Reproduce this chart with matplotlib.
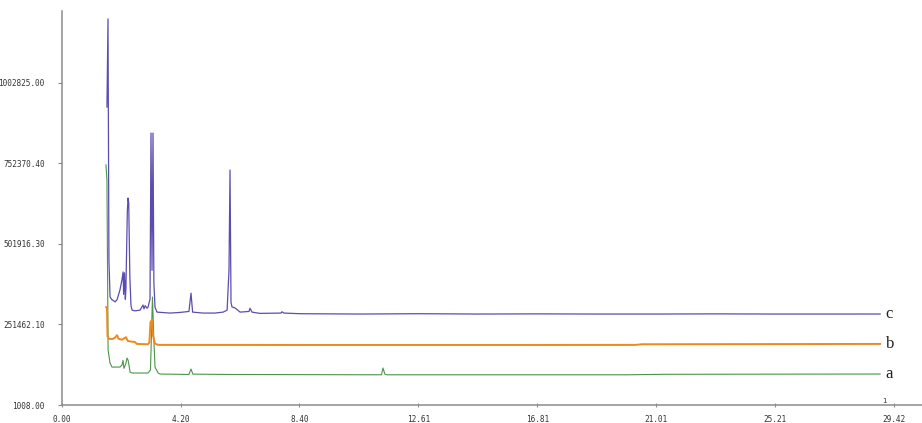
import numpy as np
import matplotlib
matplotlib.use("Agg")
import matplotlib.pyplot as plt

# retention time (min) / detector response for the three runs
time_c = [1.59, 1.627, 1.66, 1.70, 1.77, 1.80, 1.88, 1.95, 2.05, 2.12, 2.16, 2.18, 2.21, 2.24,
          2.26, 2.31, 2.335, 2.36, 2.40, 2.44, 2.48, 2.58, 2.76, 2.865, 2.90, 2.94, 3.007, 3.04,
          3.113, 3.148, 3.184, 3.219, 3.25, 3.29, 3.36, 3.82, 4.17, 4.49, 4.563, 4.62, 4.99,
          5.41, 5.70, 5.84, 5.907, 5.943, 5.978, 6.013, 6.12, 6.30, 6.615, 6.65, 6.72, 7.00,
          7.747, 7.782, 7.853, 8.42, 10.5, 12.6, 14.7, 16.8, 18.9, 21.0, 23.1, 25.2, 27.3, 28.94]
resp_c = [928000, 1202000, 450000, 337000, 328000, 327000, 322000, 329000, 359000, 390000,
          415000, 345000, 412000, 330000, 360000, 600000, 645000, 630000, 400000, 310000,
          296000, 294000, 296000, 312000, 300000, 310000, 302000, 305000, 330000, 847000,
          420000, 847000, 380000, 305000, 290000, 287000, 289000, 292000, 349000, 290000,
          287000, 287000, 290000, 296000, 420000, 732000, 320000, 306000, 303000, 290000,
          292000, 302000, 290000, 286000, 287000, 291000, 287000, 285000, 284000, 285000,
          284000, 284500, 284000, 284000, 284500, 284000, 284000, 284100]

time_b = [1.56, 1.59, 1.61, 1.66, 1.77, 1.87, 1.946, 2.00, 2.12, 2.26, 2.33, 2.48, 2.58,
          2.65, 3.04, 3.09, 3.13, 3.18, 3.21, 3.29, 3.40, 8.4, 12.6, 16.8, 20.3, 20.5, 25.2,
          28.94]
resp_b = [305000, 306000, 215000, 207000, 206000, 210000, 218000, 207000, 204000, 212000,
          200000, 198000, 197000, 191000, 190000, 195000, 259000, 265000, 220000, 192000,
          188000, 187700, 187700, 187700, 188000, 190000, 190500, 191000]

time_a = [1.556, 1.59, 1.63, 1.70, 1.77, 2.05, 2.12, 2.158, 2.19, 2.26, 2.30, 2.34, 2.41,
          2.48, 3.04, 3.13, 3.20, 3.25, 3.29, 3.40, 3.47, 4.49, 4.563, 4.63, 5.9, 8.4, 11.30,
          11.355, 11.42, 11.5, 16.8, 20.0, 21.3, 25.2, 28.94]
resp_a = [748000, 700000, 172000, 131000, 119000, 119000, 125000, 140000, 115000, 130000,
          147000, 140000, 103000, 100500, 100500, 110000, 337000, 200000, 119000, 100500,
          97400, 96000, 113000, 97000, 96000, 95500, 95000, 116000, 97000, 95000, 95000,
          95000, 96500, 97000, 97400]

series = [
    ("a", time_a, resp_a, "#4a9548", 0.8),
    ("b", time_b, resp_b, "#ee8a1c", 1.4),
    ("c", time_c, resp_c, "#5b4db0", 0.9),
]

x_ticks = [0.00, 4.20, 8.40, 12.61, 16.81, 21.01, 25.21, 29.42]
y_ticks = [1008.00, 251462.10, 501916.30, 752370.40, 1002825.00]

fig = plt.figure(figsize=(9.22, 4.23), dpi=100)
ax = fig.add_axes([62 / 922, 18 / 423, 1 - 62 / 922, 394 / 423])

for name, t, r, col, lw in series:
    ax.plot(t, r, color=col, lw=lw)
    ax.annotate(name, xy=(t[-1], r[-1]), xytext=(4, 0), textcoords="offset points",
                ha="left", va="center", fontsize=12, family="Liberation Serif",
                color="#222222")

ax.set_xlim(0, 30.42)
ax.set_ylim(1008, 1226742)
ax.set_xticks(x_ticks)
ax.set_xticklabels(["%.2f" % v for v in x_ticks])
ax.set_yticks(y_ticks)
ax.set_yticklabels(["%.2f" % v for v in y_ticks])

for side in ["top", "right"]:
    ax.spines[side].set_visible(False)
for side in ["left", "bottom"]:
    ax.spines[side].set_color("#8c8c8c")
    ax.spines[side].set_linewidth(1.1)

ax.tick_params(axis="y", direction="out", length=3, width=0.8, color="#8c8c8c",
               pad=9.5, labelsize=5.6, labelcolor="#333333")
ax.tick_params(axis="x", direction="inout", length=3, width=0.8, color="#8c8c8c",
               pad=6, labelsize=5.6, labelcolor="#333333")
for lab in ax.get_xticklabels() + ax.get_yticklabels():
    lab.set_family("DejaVu Sans Mono")

# small marker above the time axis near the end of the run
ax.annotate("1", xy=(29.08, 1008), xytext=(0, 1), textcoords="offset points",
            ha="center", va="bottom", fontsize=5, color="#333333")

fig.savefig("out.png", dpi=100)
